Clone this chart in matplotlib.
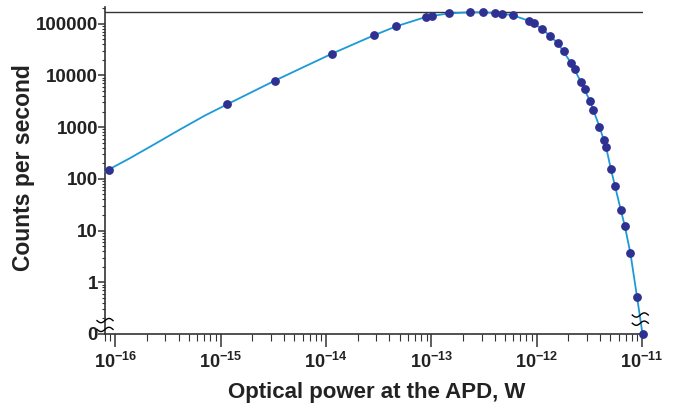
import numpy as np
import matplotlib
matplotlib.use("Agg")
import matplotlib.pyplot as plt
from matplotlib.ticker import LogLocator, FixedLocator, FuncFormatter, NullFormatter

plt.rcParams["font.family"] = ["Liberation Sans", "DejaVu Sans"]
plt.rcParams["font.weight"] = "bold"
plt.rcParams["mathtext.fontset"] = "custom"
plt.rcParams["mathtext.rm"] = "Liberation Sans:bold"
plt.rcParams["mathtext.bf"] = "Liberation Sans:bold"

# measured points (optical power in W, counts per second)
power_w = [8.64e-17, 1.153e-15, 3.27e-15, 1.143e-14, 2.86e-14, 4.65e-14, 8.89e-14,
           1.007e-13, 1.469e-13, 2.31e-13, 3.10e-13, 3.98e-13, 4.70e-13, 5.94e-13,
           8.39e-13, 9.40e-13, 1.127e-12, 1.343e-12, 1.578e-12, 1.811e-12, 2.11e-12,
           2.30e-12, 2.62e-12, 2.86e-12, 3.21e-12, 3.44e-12, 3.94e-12, 4.37e-12,
           4.56e-12, 5.05e-12, 5.55e-12, 6.28e-12, 6.86e-12, 7.76e-12, 8.97e-12, 1.01e-11]
counts = [150, 2750, 7900, 26300, 59500, 88700, 134700,
          143000, 158000, 165000, 165000, 161000, 156000, 144500,
          114000, 101000, 79000, 58600, 42400, 29200, 17600,
          13300, 7570, 5470, 3150, 2150, 1020, 555,
          406, 157, 71, 25, 12.2, 3.6, 0.51, 0]

# fitted curve
fit_power_w = [8.04e-17, 8.64e-17, 1.387e-16, 2.394e-16, 4.133e-16, 7.136e-16, 1.153e-15,
               3.27e-15, 1.143e-14, 2.86e-14, 4.65e-14, 8.89e-14, 1.469e-13, 2.31e-13,
               3.10e-13, 3.98e-13, 4.70e-13, 5.94e-13, 8.39e-13, 1.127e-12, 1.578e-12,
               2.11e-12, 2.62e-12, 3.21e-12, 3.94e-12, 4.56e-12, 5.05e-12, 5.55e-12,
               6.28e-12, 6.86e-12, 7.76e-12, 8.97e-12, 1.01e-11]
fit_counts = [137, 150, 252, 475, 902, 1682, 2750,
              7900, 26300, 59500, 88700, 134700, 158000, 165500,
              165000, 161000, 156000, 144500, 114000, 79000, 42400,
              17600, 7570, 3150, 1020, 406, 157, 71,
              25, 12.2, 3.6, 0.51, 0]

x_ticks = [1e-16, 1e-15, 1e-14, 1e-13, 1e-12, 1e-11]
y_ticks = [0, 1, 10, 100, 1000, 10000, 100000]
y_tick_labels = ["0", "1", "10", "100", "1000", "10000", "100000"]
peak_line = 168000
zero_pos = 0.1  # "0" sits one decade below 1 on the broken log axis

line_color = "#1b9ad7"
dot_color = "#2e3192"
axis_color = "#333333"
text_color = "#222222"


def to_axis(values):
    v = np.asarray(values, dtype=float)
    return np.where(v == 0, zero_pos, v)


def squiggle(ax, cx, cy):
    t = np.linspace(-1, 1, 40)
    ax.plot(cx + t * 0.0149, cy + 0.0065 * np.sin(np.pi * t), color="black", lw=1.0,
            transform=ax.transAxes, clip_on=False, zorder=6)


fig = plt.figure(figsize=(6.89, 4.09), dpi=100)
ax = fig.add_axes([0.1524, 0.1834, 0.7808, 0.7996])

ax.plot(fit_power_w, to_axis(fit_counts), color=line_color, lw=1.3, clip_on=False, zorder=3)
ax.plot(power_w, to_axis(counts), "o", color=dot_color, ms=5.3, mec=dot_color,
        clip_on=False, zorder=4)
ax.axhline(peak_line, color=axis_color, lw=1.0, zorder=2)

ax.set_xscale("log")
ax.set_yscale("log")
ax.set_xlim(8.0e-17, 1.02e-11)
ax.set_ylim(zero_pos, 2.1e5)

ax.set_yticks(list(to_axis(y_ticks)), y_tick_labels)
ax.yaxis.set_minor_locator(LogLocator(base=10, subs=np.arange(2, 10), numticks=20))
ax.yaxis.set_minor_formatter(NullFormatter())

ax.xaxis.set_major_locator(FixedLocator(x_ticks))
ax.xaxis.set_major_formatter(FuncFormatter(lambda v, p: r"$\mathbf{10^{%d}}$" % round(np.log10(v))))
ax.xaxis.set_minor_locator(LogLocator(base=10, subs=np.arange(2, 10), numticks=20))
ax.xaxis.set_minor_formatter(NullFormatter())

for side in ["top", "right"]:
    ax.spines[side].set_visible(False)
for side in ["left", "bottom"]:
    ax.spines[side].set_color(axis_color)
    ax.spines[side].set_linewidth(1.2)

ax.tick_params(axis="y", which="major", direction="out", length=5, width=1.1,
               color=axis_color, labelsize=13.5, pad=0)
ax.tick_params(axis="y", which="minor", direction="out", length=2.5, width=0.8, color=axis_color)
ax.tick_params(axis="x", which="major", direction="out", length=9, width=1.1,
               color=axis_color, labelsize=13, pad=4)
ax.tick_params(axis="x", which="minor", direction="out", length=5, width=0.8, color=axis_color)
for lab in ax.get_xticklabels() + ax.get_yticklabels():
    lab.set_color(text_color)

ax.set_xlabel("Optical power at the APD, W", fontsize=16, fontweight="bold", color=text_color)
ax.set_ylabel("Counts per second", fontsize=16.5, fontweight="bold", color=text_color)
ax.xaxis.set_label_coords(0.505, -0.148)
ax.yaxis.set_label_coords(-0.13, 0.51)

# axis break marks between 0 and 1
squiggle(ax, 0.0, 0.041)
squiggle(ax, 0.0, 0.014)
squiggle(ax, 0.995, 0.058)
squiggle(ax, 0.995, 0.033)

fig.savefig("out.png", dpi=100)
